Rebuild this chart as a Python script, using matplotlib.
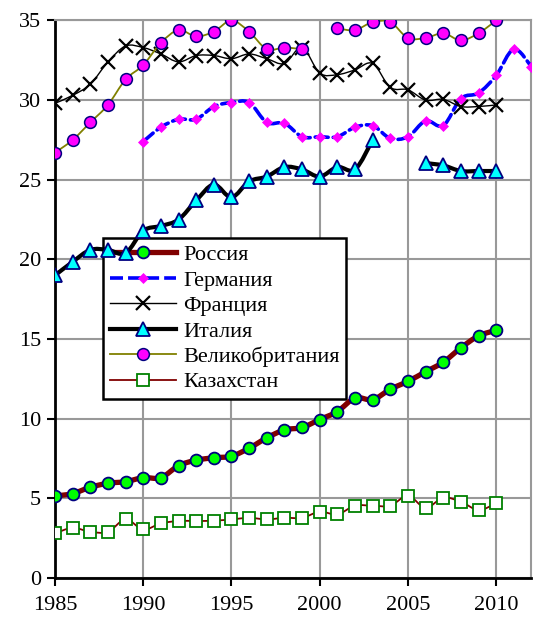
import numpy as np
import matplotlib
matplotlib.use("Agg")
import matplotlib.pyplot as plt
from matplotlib.path import Path
from matplotlib.patches import PathPatch
from matplotlib.lines import Line2D

nan = np.nan

years = list(range(1985, 2013))

# 1985 ... 2012, nan where there is no value
russia = [5.15, 5.3, 5.7, 5.95, 6.05, 6.3, 6.3, 7.05, 7.4, 7.55, 7.65, 8.15, 8.8, 9.3,
          9.45, 9.95, 10.45, 11.3, 11.2, 11.85, 12.35, 12.95, 13.55, 14.45, 15.2, 15.55,
          nan, nan]
germany = [nan, nan, nan, nan, nan,
           27.4, 28.3, 28.8, 28.8, 29.6, 29.85, 29.85, 28.6, 28.55, 27.7, 27.7, 27.7,
           28.3, 28.4, 27.6, 27.7, 28.7, 28.4, 30.1, 30.45, 31.55, 33.2, 32.1]
france = [29.8, 30.3, 31.0, 32.4, 33.4, 33.3, 32.9, 32.4, 32.8, 32.8, 32.6, 32.9, 32.6,
          32.3, 33.3, 31.7, 31.6, 31.9, 32.3, 30.8, 30.65, 30.0, 30.05, 29.6, 29.6, 29.7,
          nan, nan]
italy = [19.0, 19.85, 20.6, 20.6, 20.4, 21.8, 22.1, 22.5, 23.7, 24.7, 23.9, 24.9, 25.2,
         25.8, 25.65, 25.2, 25.8, 25.65, 27.5, nan, nan, 26.05, 25.9, 25.55, 25.55, 25.55,
         nan, nan]
britain = [26.7, 27.5, 28.6, 29.7, 31.3, 32.2, 33.6, 34.4, 34.0, 34.3, 35.0, 34.3, 33.2,
           33.3, 33.2, nan, 34.5, 34.4, 34.9, 34.9, 33.9, 33.9, 34.2, 33.75, 34.2, 35.0,
           nan, nan]
kazakhstan = [2.8, 3.15, 2.9, 2.9, 3.68, 3.05, 3.43, 3.58, 3.58, 3.6, 3.68, 3.78, 3.68,
              3.78, 3.78, 4.16, 4.0, 4.54, 4.54, 4.54, 5.16, 4.41, 5.04, 4.79, 4.27, 4.69,
              nan, nan]

names = ["Россия", "Германия", "Франция", "Италия", "Великобритания", "Казахстан"]

plt.rcParams["font.family"] = ["Liberation Serif", "DejaVu Serif"]


def smooth_path(xs, ys):
    """Catmull-Rom style Bezier curve through the points (Excel 'smoothed line')."""
    pts = np.column_stack([xs, ys])
    n = len(pts)
    verts = [pts[0]]
    codes = [Path.MOVETO]
    for i in range(n - 1):
        p0 = pts[i - 1] if i > 0 else pts[i]
        p1 = pts[i]
        p2 = pts[i + 1]
        p3 = pts[i + 2] if i + 2 < n else pts[i + 1]
        c1 = p1 + (p2 - p0) / 6.0
        c2 = p2 - (p3 - p1) / 6.0
        verts += [c1, c2, p2]
        codes += [Path.CURVE4] * 3
    return Path(verts, codes)


def draw_series(ax, x, y, line_kw, marker_kw, z):
    x = np.asarray(x, float)
    y = np.asarray(y, float)
    ok = ~np.isnan(y)
    # split into runs of consecutive values
    start = None
    for i in range(len(y) + 1):
        if i < len(y) and ok[i]:
            if start is None:
                start = i
        elif start is not None:
            seg = slice(start, i)
            if i - start > 1:
                ax.add_patch(PathPatch(smooth_path(x[seg], y[seg]), fill=False,
                                       zorder=z, capstyle="round", joinstyle="round",
                                       **line_kw))
            start = None
    ax.plot(x[ok], y[ok], linestyle="none", zorder=z + 0.1, **marker_kw)


styles = [
    (russia, dict(edgecolor="#800000", linewidth=3.8),
     dict(marker="o", markersize=8.5, markerfacecolor="#00ff00",
          markeredgecolor="#000080", markeredgewidth=1.3)),
    (germany, dict(edgecolor="#0000ff", linewidth=2.6, linestyle=(0, (3.6, 1.4))),
     dict(marker="D", markersize=5, markerfacecolor="#ff00ff",
          markeredgecolor="#ff00ff", markeredgewidth=0.5)),
    (france, dict(edgecolor="black", linewidth=1.0),
     dict(marker="x", markersize=10, markeredgecolor="black", markeredgewidth=1.6)),
    (italy, dict(edgecolor="black", linewidth=3.0),
     dict(marker="^", markersize=10, markerfacecolor="#00ffff",
          markeredgecolor="#000080", markeredgewidth=1.3)),
    (britain, dict(edgecolor="#808000", linewidth=1.3),
     dict(marker="o", markersize=8.5, markerfacecolor="#ff00ff",
          markeredgecolor="#000080", markeredgewidth=1.1)),
    (kazakhstan, dict(edgecolor="#800000", linewidth=1.3),
     dict(marker="s", markersize=8, markerfacecolor="white",
          markeredgecolor="#008000", markeredgewidth=1.3)),
]

fig = plt.figure(figsize=(5.36, 6.19), dpi=100)
ax = fig.add_axes([0.1026, 0.0662, 0.889, 0.9007])

handles = []
for k, (vals, lkw, mkw) in enumerate(styles):
    draw_series(ax, years, vals, lkw, mkw, 3 + k * 0.2)
    handles.append(Line2D([], [], color=lkw["edgecolor"], linewidth=lkw["linewidth"],
                          linestyle=lkw.get("linestyle", "-"), **mkw))

ax.set_xlim(1985, 2012)
ax.set_ylim(0, 35)
ax.set_xticks(range(1985, 2011, 5))
ax.set_yticks(range(0, 36, 5))
ax.tick_params(axis="both", labelsize=16, length=6, width=1.5, color="black",
               direction="out", pad=4)
ax.tick_params(axis="x", pad=7)

ax.set_axisbelow(True)
ax.grid(True, color="#999999", linewidth=1.5)
for side in ("top", "right"):
    ax.spines[side].set_color("#999999")
    ax.spines[side].set_linewidth(1.5)
for side in ("left", "bottom"):
    ax.spines[side].set_color("black")
    ax.spines[side].set_linewidth(2)

leg = ax.legend(handles, names, loc="upper left", bbox_to_anchor=(0.192, 0.6155),
                bbox_transform=fig.transFigure,
                prop={"family": "Liberation Serif", "size": 16}, frameon=True,
                fancybox=False, edgecolor="black", framealpha=1, handlelength=3.0,
                handletextpad=0.3, labelspacing=0.22, borderpad=0.3, borderaxespad=0)
leg.get_frame().set_linewidth(1.8)
leg.set_zorder(2)

fig.savefig("out.png", dpi=100)
